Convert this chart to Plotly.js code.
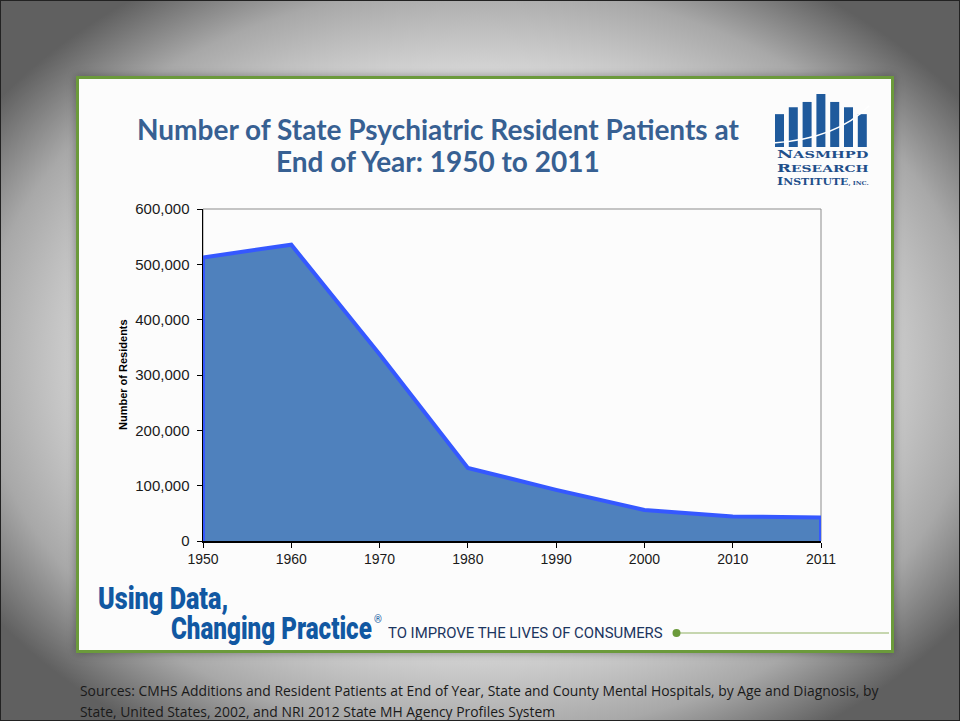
<!DOCTYPE html>
<html>
<head>
<meta charset="utf-8">
<script src="https://cdn.plot.ly/plotly-3.0.1.min.js"></script>
<style>
  body { margin: 0; }
  #slide {
    position: relative; width: 960px; height: 721px; overflow: hidden;
    box-sizing: border-box; border: 1px solid #222;
    background: radial-gradient(ellipse 62% 62% at 50% 50%, #f6f6f6 0%, #ececec 55%, #a8a8a8 84%, #606060 100%);
  }
  #panel {
    position: absolute; left: 75px; top: 75px; width: 812px; height: 571px;
    background: #fcfcfc; border: 3px solid #6b9a3b;
    box-shadow: 0 0 8px rgba(0,0,0,0.35);
  }
  #chart { position: absolute; left: 0; top: 0; width: 960px; height: 721px; }
  .cond {
    position: absolute; white-space: nowrap; transform-origin: left center;
    font-family: Roboto, "Liberation Sans", sans-serif; z-index: 2;
  }
  .brand { font-weight: 900; font-size: 32px; color: #1158a2; line-height: 32px; }
  .tag { font-size: 15px; color: #1b3560; line-height: 15px; }
  .logo {
    font-family: "DejaVu Serif", "Liberation Serif", serif; font-weight: bold;
    font-size: 9.5px; line-height: 11px; height: 11px; color: #1f4f8a;
  }
  .logo b { font-size: 11.5px; }
  .logo small { font-size: 5.5px; }
</style>
</head>
<body>
<div id="slide">
  <div id="panel"></div>
  <div id="chart"></div>
  <div class="cond brand" data-w="130" style="left:97px; top:581px;">Using Data,</div>
  <div class="cond brand" data-w="201" style="left:170px; top:611px;">Changing Practice</div>
  <div class="cond" style="left:373px; top:613px; font-size:10px; color:#1158a2;">®</div>
  <div class="cond tag" data-w="275" style="left:387px; top:625px;">TO IMPROVE THE LIVES OF CONSUMERS</div>
  <div class="cond logo" data-w="92" style="left:776px; top:148px;"><b>N</b>ASMHPD</div>
  <div class="cond logo" data-w="92" style="left:776px; top:161.5px;"><b>R</b>ESEARCH</div>
  <div class="cond logo" data-w="92" style="left:776px; top:175px;"><b>I</b>NSTITUTE<small>, INC.</small></div>
</div>
<script>
// Resident patients at end of year
const years = ['1950', '1960', '1970', '1980', '1990', '2000', '2010', '2011'];
const residents = [512500, 535500, 337600, 132000, 92500, 56000, 44500, 42300];

const yTicks = [0, 100000, 200000, 300000, 400000, 500000, 600000];

// logo bar heights (relative)
const logoBars = [0.62, 0.75, 0.85, 1.0, 0.85, 0.75, 0.62];

// squeeze the condensed slide texts to their widths
document.querySelectorAll('.cond[data-w]').forEach(el => {
    const s = +el.dataset.w / el.scrollWidth;
    el.style.transform = 'scaleX(' + s + ')';
});

// plot area in page pixels, used to place the slide decorations
const W = 960, H = 721;
const margin = { l: 202, r: 140, t: 208, b: 181 };
const plotW = W - margin.l - margin.r;
const plotH = H - margin.t - margin.b;
const px = x => (x - margin.l) / plotW;
const py = y => (H - margin.b - y) / plotH;

// close the area down to zero at both ends so the outline shows the sides
const xs = [years[0]].concat(years, [years[years.length - 1]]);
const ys = [0].concat(residents, [0]);

const traces = [
    {
        x: xs,
        y: ys,
        type: 'scatter',
        mode: 'lines',
        fill: 'tozeroy',
        fillcolor: '#4f81bd',
        line: { color: '#3558ff', width: 4 },
        hoverinfo: 'skip',
        showlegend: false
    }
];

const shapes = [
    // thin grey frame at top/right of plot
    {
        type: 'rect', xref: 'paper', yref: 'paper', x0: 0, x1: 1, y0: 0, y1: 1,
        line: { color: '#8c8c8c', width: 1 }, layer: 'below'
    },
    // green rule after the tagline
    {
        type: 'line', xref: 'paper', yref: 'paper',
        x0: px(676), x1: px(888), y0: py(632), y1: py(632),
        line: { color: '#8fb062', width: 1.2 }
    },
    {
        type: 'circle', xref: 'paper', yref: 'paper',
        x0: px(671.5), x1: px(679.5), y0: py(628), y1: py(636),
        fillcolor: '#6b9a3b', line: { width: 0 }
    }
];

// logo bars
const barW = 9, barGap = 13.8, barLeft = 774, barBottom = 146, barMax = 53;
logoBars.forEach((h, i) => {
    const x0 = barLeft + i * barGap;
    shapes.push({
        type: 'rect', xref: 'paper', yref: 'paper',
        x0: px(x0), x1: px(x0 + barW),
        y0: py(barBottom), y1: py(barBottom - h * barMax),
        fillcolor: '#1f5a9c', line: { width: 0 }
    });
});
// swoosh across the logo
shapes.push({
    type: 'path', xref: 'paper', yref: 'paper',
    path: 'M ' + px(772) + ' ' + py(142) + ' Q ' + px(835) + ' ' + py(138) + ' ' + px(868) + ' ' + py(105),
    line: { color: '#ffffff', width: 1.6 }
});

const titleFont = { family: 'Lato, "Open Sans", sans-serif', size: 28, color: '#376092' };
const srcFont = { family: '"Open Sans", "Noto Sans", sans-serif', size: 13.9, color: '#1a1a1a' };

function note(text, x, y, font, xanchor) {
    return {
        text: text, xref: 'paper', yref: 'paper', x: px(x), y: py(y),
        xanchor: xanchor || 'left', yanchor: 'middle', showarrow: false, font: font
    };
}

const annotations = [
    note('<b>Number of State Psychiatric Resident Patients at</b>', 437, 128, titleFont, 'center'),
    note('<b>End of Year: 1950 to 2011</b>', 437, 160, titleFont, 'center'),
    {
        text: '<b>Number of Residents</b>',
        xref: 'paper', yref: 'paper', x: px(122), y: 0.5, textangle: -90,
        xanchor: 'center', yanchor: 'middle', showarrow: false,
        font: { family: '"Liberation Sans", Arial, sans-serif', size: 11, color: '#000' }
    },
    note('Sources: CMHS Additions and Resident Patients at End of Year, State and County Mental Hospitals, by Age and Diagnosis, by', 77, 689, srcFont),
    note('State, United States, 2002, and NRI 2012 State MH Agency Profiles System', 77, 710, srcFont)
];

const layout = {
    width: W,
    height: H,
    margin: margin,
    paper_bgcolor: 'rgba(0,0,0,0)',
    plot_bgcolor: 'rgba(0,0,0,0)',
    showlegend: false,
    xaxis: {
        type: 'category',
        categoryorder: 'array',
        categoryarray: years,
        range: [0, years.length - 1],
        showgrid: false,
        zeroline: false,
        showline: true,
        linecolor: '#000',
        linewidth: 1.5,
        ticks: 'outside',
        ticklen: 5,
        tickcolor: '#000',
        tickfont: { family: '"Liberation Sans", Arial, sans-serif', size: 14, color: '#1a1a1a' }
    },
    yaxis: {
        range: [0, 600000],
        tickvals: yTicks,
        tickformat: ',',
        showgrid: false,
        zeroline: false,
        showline: true,
        linecolor: '#000',
        linewidth: 1.5,
        ticks: 'outside',
        ticklen: 5,
        ticklabelstandoff: 4,
        tickcolor: '#000',
        tickfont: { family: '"Liberation Sans", Arial, sans-serif', size: 15, color: '#1a1a1a' }
    },
    shapes: shapes,
    annotations: annotations
};

Plotly.newPlot('chart', traces, layout, { displayModeBar: false, staticPlot: true });
</script>
</body>
</html>
